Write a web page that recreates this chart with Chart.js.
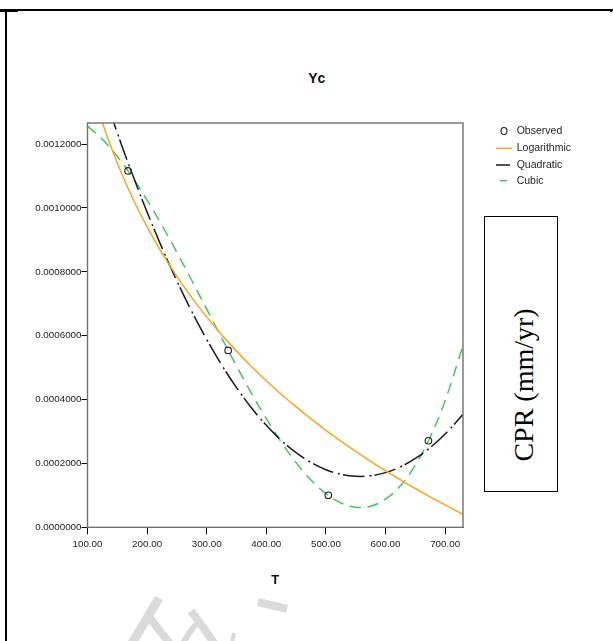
<!DOCTYPE html>
<html><head><meta charset="utf-8">
<script src="https://cdn.jsdelivr.net/npm/chart.js@4.4.1/dist/chart.umd.min.js"></script>
<style>
html,body{margin:0;padding:0;background:#fff;width:613px;height:641px;overflow:hidden;position:relative;font-family:"Liberation Sans",Arial,sans-serif}
#c{position:absolute;left:0;top:0}
.ln{position:absolute;background:#000}
#title{position:absolute;left:316.7px;top:78px;transform:translate(-50%,-50%);font-weight:bold;font-size:14px;color:#111;white-space:nowrap}
#cpr{position:absolute;left:484px;top:216px;width:72px;height:274px;border:1.5px solid #000}
#cprt{position:absolute;left:524px;top:384.5px;transform:translate(-50%,-50%) rotate(-90deg);font-family:"Liberation Serif","Times New Roman",serif;font-size:28px;white-space:nowrap;color:#000}
</style></head><body>
<svg width="613" height="641" style="position:absolute;left:0;top:0">
  <g stroke="#dadada" fill="none" stroke-linecap="butt">
    <line x1="131" y1="645" x2="159" y2="598" stroke-width="9"/>
    <line x1="149" y1="617" x2="171" y2="645" stroke-width="8"/>
    <path d="M191,611 Q201,624 214,643" stroke-width="8"/>
    <path d="M196,624 Q189,633 183,643" stroke-width="6"/>
    <line x1="232" y1="643" x2="234" y2="633" stroke-width="4"/>
    <line x1="258" y1="602" x2="287" y2="609" stroke-width="8"/>
  </g>
</svg>
<div class="ln" style="left:0;top:9px;width:613px;height:1.5px"></div>
<div class="ln" style="left:5px;top:9px;width:2px;height:632px"></div>
<div class="ln" style="left:0;top:10.5px;width:18px;height:1px"></div>
<div class="ln" style="left:610px;top:9px;width:2px;height:3px"></div>
<div id="title">Yc</div>
<div id="cpr"></div>
<div id="cprt">CPR (mm/yr)</div>
<canvas id="c" width="613" height="641"></canvas>
<script>
// ---- data ----
const obsT = [168, 336, 504, 672];
const obsY = [0.001116, 0.000554, 0.000100, 0.000271];

const fitT = [100,125,150,175,200,225,250,275,300,325,350,375,400,425,450,475,500,525,550,575,600,625,650,675,700,730];
const logY = [0.0014224,0.0012673,0.0011406,0.0010335,0.0009407,0.0008588,0.0007856,0.0007193,0.0006589,0.0006032,
              0.0005517,0.0005038,0.0004589,0.0004168,0.0003771,0.0003395,0.0003038,0.0002699,0.0002376,0.0002067,
              0.0001771,0.0001488,0.0001215,0.0000953,0.0000700,0.0000408];
const quadY = [0.0015154,0.0013711,0.0012349,0.0011068,0.0009869,0.0008750,0.0007713,0.0006757,0.0005882,0.0005088,
               0.0004375,0.0003744,0.0003194,0.0002725,0.0002337,0.0002030,0.0001804,0.0001660,0.0001596,0.0001614,
               0.0001713,0.0001893,0.0002155,0.0002497,0.0002921,0.0003536];
const cubY = [0.0012564,0.0012147,0.0011611,0.0010972,0.0010247,0.0009453,0.0008608,0.0007728,0.0006830,0.0005931,
              0.0005049,0.0004201,0.0003403,0.0002672,0.0002026,0.0001482,0.0001056,0.0000766,0.0000628,0.0000661,
              0.0000880,0.0001303,0.0001948,0.0002829,0.0003966,0.0005690];

const seriesNames = ['Observed','Logarithmic','Quadratic','Cubic'];
const xTicks = [100,200,300,400,500,600,700];
const yTicks = [0,0.0002,0.0004,0.0006,0.0008,0.0010,0.0012];

const colors = {obs:'#1e1e1e', log:'#fca41c', quad:'#1a1a1a', cub:'#3fc95a'};

const pts = (xs, ys) => xs.map((x,i)=>({x:x, y:ys[i]}));

const framePlugin = {
  id:'frame',
  afterDraw(chart){
    const {ctx, chartArea:a} = chart;
    ctx.save();
    ctx.strokeStyle = '#707070';
    ctx.lineWidth = 1.4;
    ctx.strokeRect(a.left, a.top, a.right - a.left, a.bottom - a.top);
    ctx.restore();
  }
};

const legendPlugin = {
  id:'customLegend',
  afterDraw(chart){
    const ctx = chart.ctx;
    const ds = chart.data.datasets;
    const rowsY = [131, 148.3, 165, 180.7];
    ctx.save();
    ctx.font = '10.5px "Liberation Sans", Arial, sans-serif';
    ctx.textBaseline = 'middle';
    ctx.textAlign = 'left';
    ctx.strokeStyle = colors.obs; ctx.lineWidth = 1.1;
    ctx.beginPath(); ctx.ellipse(504, rowsY[0], 3, 3.5, 0, 0, Math.PI*2); ctx.stroke();
    const samples = [[496,512,colors.log],[496,510,colors.quad],[500,507,colors.cub]];
    samples.forEach((s,i)=>{
      ctx.strokeStyle = s[2]; ctx.lineWidth = 1.5;
      ctx.beginPath(); ctx.moveTo(s[0], rowsY[i+1]); ctx.lineTo(s[1], rowsY[i+1]); ctx.stroke();
    });
    ctx.fillStyle = '#1e1e1e';
    ds.forEach((d,i)=>{ ctx.fillText(d.label, 516.7, rowsY[i]); });
    ctx.restore();
  }
};

new Chart(document.getElementById('c'), {
  type:'line',
  data:{
    datasets:[
      {label:seriesNames[0], data:pts(obsT,obsY), showLine:false, pointRadius:3.3, pointBorderWidth:1.1,
       pointBorderColor:colors.obs, pointBackgroundColor:'rgba(0,0,0,0)', borderColor:colors.obs, order:0},
      {label:seriesNames[1], data:pts(fitT,logY), borderColor:colors.log, borderWidth:1.5, pointRadius:0, tension:0.4, fill:false},
      {label:seriesNames[2], data:pts(fitT,quadY), borderColor:colors.quad, borderWidth:1.5, pointRadius:0, tension:0.4, fill:false,
       borderDash:[2,3,22,5]},
      {label:seriesNames[3], data:pts(fitT,cubY), borderColor:colors.cub, borderWidth:1.5, pointRadius:0, tension:0.4, fill:false,
       borderDash:[11,7]}
    ]
  },
  options:{
    responsive:false, animation:false, devicePixelRatio:1,
    layout:{padding:{top:123, right:150, bottom:0, left:0}},
    plugins:{legend:{display:false}, title:{display:false}, tooltip:{enabled:false}},
    scales:{
      x:{
        type:'linear', min:100, max:730,
        afterBuildTicks: s => { s.ticks = xTicks.map(v=>({value:v})); },
        afterFit: s => { s.height = 641 - 527.3; },
        grid:{drawOnChartArea:false, drawTicks:true, tickLength:7, color:'#000', lineWidth:1},
        border:{display:true, color:'#555', width:1},
        ticks:{autoSkip:false, maxRotation:0, padding:4, color:'#222',
               font:{family:'"Liberation Sans", Arial, sans-serif', size:9.8},
               callback: v => Number(v).toFixed(2)},
        title:{display:true, text:'T', color:'#111', font:{family:'"Liberation Sans", Arial, sans-serif', size:13, weight:'bold'},
               padding:{top:0, bottom:53}}
      },
      y:{
        type:'linear', min:0, max:0.001266,
        afterBuildTicks: s => { s.ticks = yTicks.map(v=>({value:v})); },
        afterFit: s => { s.width = 87.5; },
        grid:{drawOnChartArea:false, drawTicks:true, tickLength:6, color:'#000', lineWidth:1},
        border:{display:true, color:'#555', width:1},
        ticks:{autoSkip:false, padding:0, color:'#222',
               font:{family:'"Liberation Sans", Arial, sans-serif', size:9.8},
               callback: v => Number(v).toFixed(7)}
      }
    }
  },
  plugins:[framePlugin, legendPlugin]
});
</script>
</body></html>
